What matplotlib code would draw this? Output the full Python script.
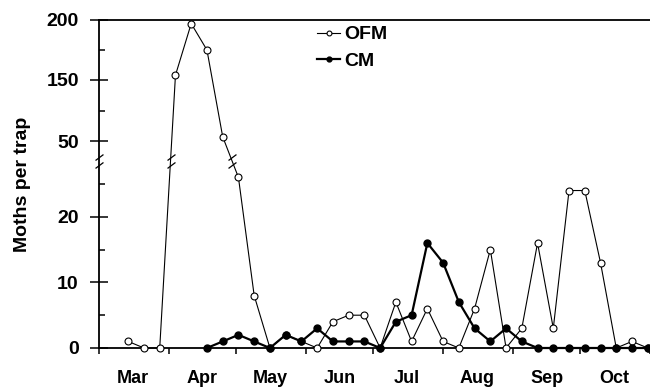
import numpy as np
import pandas as pd
import matplotlib
matplotlib.use("Agg")
import matplotlib.pyplot as plt
import matplotlib.dates as mdates
from matplotlib.path import Path
from matplotlib.ticker import FixedLocator, NullFormatter

plt.rcParams["font.family"] = ["Liberation Sans", "DejaVu Sans"]
plt.rcParams["font.weight"] = "bold"

# weekly trap checks
dates = ["2001-03-14", "2001-03-21", "2001-03-28", "2001-04-04", "2001-04-11",
         "2001-04-18", "2001-04-25", "2001-05-02", "2001-05-09", "2001-05-16",
         "2001-05-23", "2001-05-30", "2001-06-06", "2001-06-13", "2001-06-20",
         "2001-06-27", "2001-07-04", "2001-07-11", "2001-07-18", "2001-07-25",
         "2001-08-01", "2001-08-08", "2001-08-15", "2001-08-22", "2001-08-29",
         "2001-09-05", "2001-09-12", "2001-09-19", "2001-09-26", "2001-10-03",
         "2001-10-10", "2001-10-17", "2001-10-24", "2001-10-31"]
ofm = [1, 0, 0, 154, 197, 175, 57, 26, 8, 0, 2, 1, 0, 4, 5, 5, 0, 7, 1, 6,
       1, 0, 6, 15, 0, 3, 16, 3, 24, 24, 13, 0, 1, 0]
# CM traps start on the 6th check
cm_dates = dates[5:]
cm = [0, 1, 2, 1, 0, 2, 1, 3, 1, 1, 1, 0, 4, 5, 16, 13, 7, 3, 1, 3, 1,
      0, 0, 0, 0, 0, 0, 0, 0]

major_yticks = [0, 10, 20, 50, 150, 200]
minor_yticks = [5, 15, 25, 100, 175]

# broken y axis: piecewise linear scale, lower part 0-28.5 and upper part 50-200
seg_vals = [0, 28.5, 50, 150, 200]
seg_pos = [0, 187, 207, 268, 328]
y_break = 28.5


def fwd(v):
    return np.interp(v, seg_vals, seg_pos)


def inv(p):
    return np.interp(p, seg_pos, seg_vals)


x_ofm = mdates.date2num(pd.to_datetime(dates))
x_cm = mdates.date2num(pd.to_datetime(cm_dates))

fig = plt.figure(figsize=(6.5, 3.9), dpi=100)
ax = fig.add_axes([99 / 650, 42 / 390, 551 / 650, 328 / 390])
ax.set_yscale("function", functions=(fwd, inv))

ax.plot(x_ofm, ofm, color="k", lw=0.8, marker="o", ms=5, mfc="white",
        mec="k", mew=0.8, clip_on=False, zorder=3, label="OFM")
ax.plot(x_cm, cm, color="k", lw=1.6, marker="o", ms=5, mfc="k",
        mec="k", clip_on=False, zorder=4, label="CM")

# "//" break symbol
slash = Path([(-4, -7), (4, -1), (-4, 1), (4, 7)],
             [Path.MOVETO, Path.LINETO, Path.MOVETO, Path.LINETO])
brk_style = dict(marker=slash, ms=10, mfc="none", mec="k", mew=0.9,
                 ls="none", clip_on=False, zorder=5)

# break marks where the OFM line jumps across the gap
p_brk = fwd(y_break)
for i in range(len(ofm) - 1):
    if (ofm[i] - y_break) * (ofm[i + 1] - y_break) < 0:
        pa, pb = fwd(ofm[i]), fwd(ofm[i + 1])
        t = (p_brk - pa) / (pb - pa)
        xb = x_ofm[i] + t * (x_ofm[i + 1] - x_ofm[i])
        ax.plot([xb], [y_break], **brk_style)

ax.set_xlim(mdates.date2num(pd.Timestamp("2001-03-01")),
            mdates.date2num(pd.Timestamp("2001-11-01")))
ax.set_ylim(0, 200)

# break mark on the y axis
ax.plot([ax.get_xlim()[0]], [y_break], **brk_style)

ax.spines["right"].set_visible(False)
for s in ["left", "bottom", "top"]:
    ax.spines[s].set_linewidth(1.3)

ax.yaxis.set_major_locator(FixedLocator(major_yticks))
ax.yaxis.set_minor_locator(FixedLocator(minor_yticks))
ax.yaxis.set_minor_formatter(NullFormatter())
ax.set_yticklabels([str(v) for v in major_yticks])
ax.tick_params(axis="y", which="major", direction="inout", length=13,
               width=1.1, pad=8, labelsize=14)
ax.tick_params(axis="y", which="minor", direction="in", length=4.5, width=1.1)

ax.xaxis.set_major_locator(mdates.MonthLocator())
ax.xaxis.set_major_formatter(NullFormatter())
ax.xaxis.set_minor_locator(mdates.MonthLocator(bymonthday=16))
ax.xaxis.set_minor_formatter(mdates.DateFormatter("%b"))
ax.tick_params(axis="x", which="major", direction="out", length=4.3, width=1.1)
ax.tick_params(axis="x", which="minor", length=0, pad=16, labelsize=13)

ax.set_ylabel("Moths per trap", fontsize=14, fontweight="bold", labelpad=11)

ax.legend(loc="upper left", bbox_to_anchor=(0.385, 1.0), frameon=False,
          handlelength=1.2, handletextpad=0.2, labelspacing=0.45,
          borderaxespad=0, borderpad=0.3, fontsize=14, markerscale=0.7)

fig.savefig("out.png", dpi=100)
